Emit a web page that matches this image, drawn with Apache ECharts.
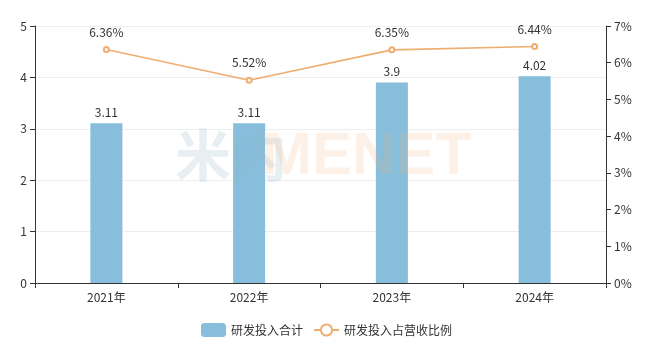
<!DOCTYPE html>
<html><head><meta charset="utf-8">
<script src="https://cdn.jsdelivr.net/npm/echarts@6/dist/echarts.min.js"></script>
<style>html,body{margin:0;padding:0;background:#fff}#c{width:653px;height:356px}</style>
</head><body><div id="c"></div>
<script>
const categories = ['2021年','2022年','2023年','2024年'];
const rdTotal = [3.11, 3.11, 3.9, 4.02];
const rdRatio = [6.36, 5.52, 6.35, 6.44];
const leftTicks = [0,1,2,3,4,5];
const rightTicks = [0,1,2,3,4,5,6,7];

const chart = echarts.init(document.getElementById('c'));
chart.setOption({
  animation: false,
  textStyle: {fontFamily: '"Noto Sans CJK SC", "Noto Sans", sans-serif'},
  grid: {left: 35, right: 47, top: 26, bottom: 73},
  legend: {
    bottom: 14, left: 'center', itemWidth: 25, itemHeight: 14, itemGap: 10,
    textStyle: {color: '#333', fontSize: 12},
    data: [{name: '研发投入合计', icon: 'roundRect'}, {name: '研发投入占营收比例'}]
  },
  xAxis: {
    type: 'category', data: categories,
    axisLine: {lineStyle: {color: '#333'}},
    axisTick: {show: true, lineStyle: {color: '#333'}},
    axisLabel: {color: '#333', fontSize: 12}
  },
  yAxis: [{
    type: 'value', min: 0, max: 5, interval: 1,
    axisLine: {show: true, lineStyle: {color: '#333'}},
    axisTick: {show: true, lineStyle: {color: '#333'}},
    axisLabel: {color: '#333', fontSize: 12},
    splitLine: {lineStyle: {color: '#eee'}}
  }, {
    type: 'value', min: 0, max: 7, interval: 1,
    axisLine: {show: true, lineStyle: {color: '#333'}},
    axisTick: {show: true, lineStyle: {color: '#333'}},
    axisLabel: {color: '#333', fontSize: 12, formatter: '{value}%'},
    splitLine: {show: false}
  }],
  series: [{
    name: '研发投入合计', type: 'bar', data: rdTotal, barWidth: 32,
    itemStyle: {color: '#86bedc'},
    label: {show: true, position: 'top', color: '#333', fontSize: 12}
  }, {
    name: '研发投入占营收比例', type: 'line', yAxisIndex: 1, data: rdRatio,
    symbol: 'emptyCircle', symbolSize: 5,
    lineStyle: {color: '#efae70', width: 1.6},
    itemStyle: {color: '#efae70'},
    label: {show: true, position: 'top', color: '#333', fontSize: 12, distance: 8, formatter: p => p.value + '%'}
  }],
  graphic: [{
    type: 'text', left: 175, top: 127, z: 100,
    style: {text: '米内', font: 'bold 56px "Noto Sans CJK SC"', fill: 'rgba(150,180,200,0.22)'}
  }, {
    type: 'text', left: 262, top: 127, z: 100,
    style: {text: 'MENET', font: 'bold 60px "Liberation Sans", Arial', fill: 'rgba(245,180,120,0.18)'}
  }]
});
</script></body></html>
